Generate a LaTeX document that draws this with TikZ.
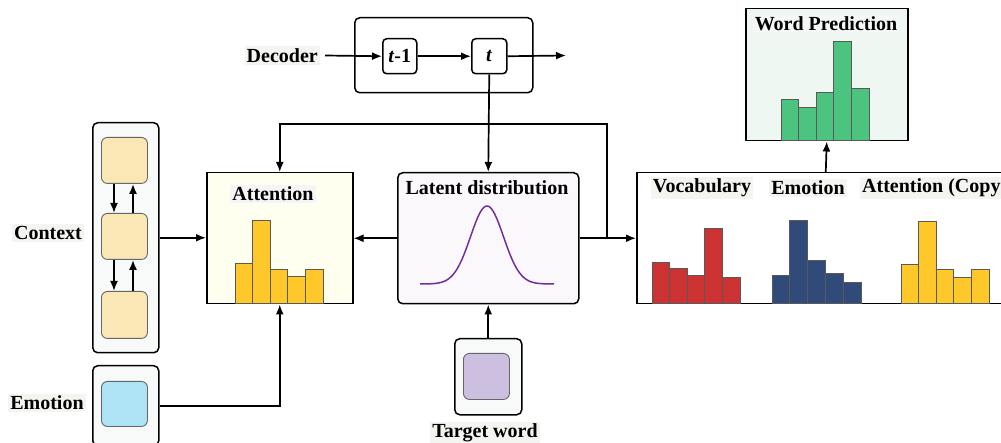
\documentclass[tikz,border=0pt]{standalone}
\usepackage{fontspec}
\setmainfont{Liberation Serif}
\usetikzlibrary{arrows.meta}
\definecolor{outerfill}{HTML}{F8FAFA}
\definecolor{ctxfill}{HTML}{F9E7B5}
\definecolor{emofill}{HTML}{ADE3F5}
\definecolor{twfill}{HTML}{CDBFE0}
\definecolor{attfill}{HTML}{FFFFF0}
\definecolor{latfill}{HTML}{FBF8FC}
\definecolor{wpfill}{HTML}{EEF7F2}
\definecolor{cred}{HTML}{CD3232}
\definecolor{cnavy}{HTML}{304A7A}
\definecolor{cyel}{HTML}{FFC82A}
\definecolor{cgreen}{HTML}{4CC47F}
\definecolor{cpurp}{HTML}{7030A0}
\definecolor{labbg}{HTML}{F4F4F0}
\tikzset{
  every node/.style={font=\fontsize{20}{24}\selectfont\bfseries},
  box/.style={draw=black, line width=1.5pt, inner sep=0pt, anchor=north west},
  rbox/.style={box, rounded corners=5pt},
  inbox/.style={draw=black!60, line width=0.9pt, rounded corners=6pt, inner sep=0pt, anchor=north west},
  lab/.style={fill=labbg, inner sep=2pt},
  arr/.style={line width=1.7pt, -{Latex[length=10pt,width=8pt]}},
  bar/.style={draw=black!65, line width=0.9pt},
}
\newcommand{\mybars}[5]{%
  \foreach \tp [count=\i from 0] in {#5}
    \draw[bar, fill=#4] ({#1+\i*#2},#3) rectangle ({#1+(\i+1)*#2},\tp);}
\begin{document}
\begin{tikzpicture}[x=1pt,y=-1pt]
\useasboundingbox (0,0) rectangle (1001,443);
\clip (0,0) rectangle (1001,443);
\fill[white] (0,0) rectangle (1001,443);

% Decoder
\node[rbox, fill=white, minimum width=178, minimum height=75] (dbox) at (354,17) {};
\node[rbox, rounded corners=4pt, fill=white, minimum width=34, minimum height=35] (tm1) at (382,38) {\textit{t}-1};
\node[rbox, rounded corners=4pt, fill=white, minimum width=35, minimum height=35] (tt) at (471,38) {\textit{t}};
\node[lab, anchor=east] (dec) at (320,55.5) {Decoder};
\coordinate (dout) at (566,55.5);

% Context
\node[rbox, fill=outerfill, minimum width=66, minimum height=230] (ctx) at (92,122) {};
\node[inbox, fill=ctxfill, minimum width=46, minimum height=46] (c1) at (101,137) {};
\node[inbox, fill=ctxfill, minimum width=46, minimum height=46] (c2) at (101,213) {};
\node[inbox, fill=ctxfill, minimum width=46, minimum height=47] (c3) at (101,291) {};
\node[lab] (ctxl) at (48,233) {Context};

% Emotion
\node[rbox, fill=outerfill, minimum width=66, minimum height=80] (emo) at (92,365) {};
\node[inbox, fill=emofill, minimum width=46, minimum height=45] (e1) at (101,381) {};
\node[lab] (emol) at (47,403) {Emotion};

% Attention
\node[box, fill=attfill, minimum width=146, minimum height=131] (att) at (206,172) {};
\node[lab, fill=black!4] (attl) at (273,194) {Attention};
\mybars{235}{17.6}{303}{cyel}{263,220,269,276,269}

% Latent distribution
\node[rbox, fill=latfill, minimum width=181, minimum height=131] (lat) at (397,172) {};
\node (latl) at (487,188) {Latent distribution};
\draw[cpurp, line width=1.5pt] plot[domain=-67:67, samples=90, smooth] ({487+\x},{284-78*exp(-0.5*(\x/16.5)^2)});

% Target word
\node[rbox, fill=outerfill, minimum width=67, minimum height=76] (tw) at (454,338) {};
\node[inbox, fill=twfill, minimum width=46, minimum height=46] (tw1) at (463,353) {};
\node[lab] (twl) at (485,433) {Target word};

% Vocabulary / Emotion / Copy box
\node[box, fill=white, minimum width=378, minimum height=131] (voc) at (636,172) {};
\node[lab] (vl) at (702,188) {Vocabulary};
\node[lab] (el) at (808,188) {Emotion};
\node[lab, anchor=west] (al) at (860,188) {Attention (Copy)};
\mybars{652}{17.6}{303}{cred}{262,268,275,228,277}
\mybars{772}{17.8}{303}{cnavy}{275,220,260,273,282}
\mybars{901}{17.6}{303}{cyel}{264,221,269,277,269}

% Word prediction
\node[box, fill=wpfill, minimum width=162, minimum height=132] (wp) at (745,8) {};
\node[fill=black!3, fill opacity=0.6, text opacity=1, inner sep=2pt] (wpl) at (826,24) {Word Prediction};
\mybars{781}{17.6}{140}{cgreen}{99,107,92,41,88}

% Connectors
\draw[arr] ([xshift=5pt]dec.east) -- (tm1.west);
\draw[arr] (tm1.east) -- (tt.west);
\draw[arr] (tt.east) -- (dout);
\draw[arr] (tt.south) -- (lat.north);

\draw[arr] (c1.south -| 114,0) -- (c2.north -| 114,0);
\draw[arr] (c2.north -| 133,0) -- (c1.south -| 133,0);
\draw[arr] (c2.south -| 114,0) -- (c3.north -| 114,0);
\draw[arr] (c3.north -| 133,0) -- (c2.south -| 133,0);

\draw[arr] (ctx.east) -- (ctx.east -| att.west);
\draw[arr] (emo.east) -| (att.south);
\draw[arr] (lat.west) -- (att.east);
\draw[arr] (lat.east) -- (voc.west);
\coordinate (j) at (607,237.5);
\coordinate (lp) at (607,124);
\draw[arr] (j) -- (lp) -| (att.north);
\draw[arr] (tw.north) -- (lat.south);
\draw[arr] (voc.north) -- (wp.south);
\end{tikzpicture}
\end{document}
